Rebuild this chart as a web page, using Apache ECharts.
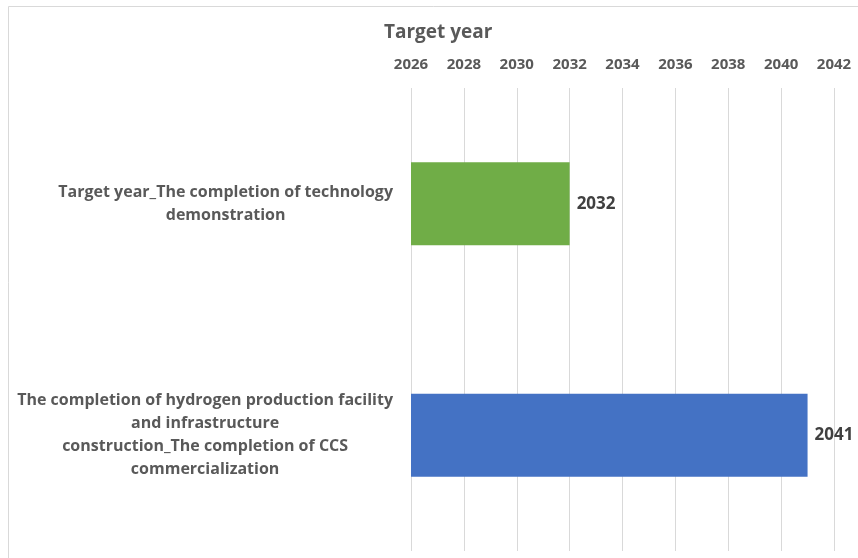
<!DOCTYPE html>
<html>
<head>
<meta charset="utf-8">
<script src="https://cdn.jsdelivr.net/npm/echarts@6/dist/echarts.min.js"></script>
<style>
  html, body { margin: 0; padding: 0; background: #ffffff; }
  #chart { width: 858px; height: 558px; }
</style>
</head>
<body>
<div id="chart"></div>
<script>
// Milestone categories (top to bottom) and their target years
const categories = [
  'Target year_The completion of technology\ndemonstration',
  'The completion of hydrogen production facility\nand infrastructure\nconstruction_The completion of CCS\ncommercialization'
];
const targetYears = [2032, 2041];
const barColors = ['#70AD47', '#4472C4'];
const axisMin = 2026;
const axisMax = 2042;
const axisStep = 2;

const font = '"Open Sans", Lato, sans-serif';
const grey = '#595959';

const chart = echarts.init(document.getElementById('chart'), null, { renderer: 'canvas' });

chart.setOption({
  backgroundColor: '#ffffff',
  animation: false,
  title: {
    text: 'Target year',
    left: 379,
    top: 18,
    textStyle: { fontFamily: font, fontSize: 19, fontWeight: 'bold', color: grey }
  },
  graphic: [
    { type: 'line', shape: { x1: 8.5, y1: 6.5, x2: 858, y2: 6.5 }, style: { stroke: '#d9d9d9', lineWidth: 1 } },
    { type: 'line', shape: { x1: 8.5, y1: 6.5, x2: 8.5, y2: 558 }, style: { stroke: '#d9d9d9', lineWidth: 1 } }
  ],
  grid: { left: 411, right: 24, top: 88, bottom: 7, containLabel: false },
  xAxis: {
    type: 'value',
    position: 'top',
    min: axisMin,
    max: axisMax,
    interval: axisStep,
    axisLine: { show: false },
    axisTick: { show: false },
    splitLine: { show: true, lineStyle: { color: '#d9d9d9', width: 1 } },
    axisLabel: {
      margin: 16,
      formatter: function (v) { return String(v); },
      fontFamily: font, fontSize: 15, fontWeight: 'bold', color: grey
    }
  },
  yAxis: {
    type: 'category',
    inverse: true,
    data: categories,
    axisLine: { show: false },
    axisTick: { show: false },
    axisLabel: {
      margin: 18,
      formatter: function (v) {
        return v.split('\n').map(function (line) { return '{c|' + line + '}'; }).join('\n');
      },
      rich: {
        c: { align: 'center', fontFamily: font, fontSize: 16, fontWeight: 'bold', color: grey, lineHeight: 23 }
      }
    }
  },
  series: [{
    type: 'bar',
    data: targetYears.map(function (v, i) {
      return { value: v, itemStyle: { color: barColors[i] } };
    }),
    barWidth: 83,
    label: {
      show: true,
      position: 'right',
      distance: 7,
      fontFamily: font, fontSize: 17, fontWeight: 'bold', color: '#404040'
    }
  }]
});
</script>
</body>
</html>
